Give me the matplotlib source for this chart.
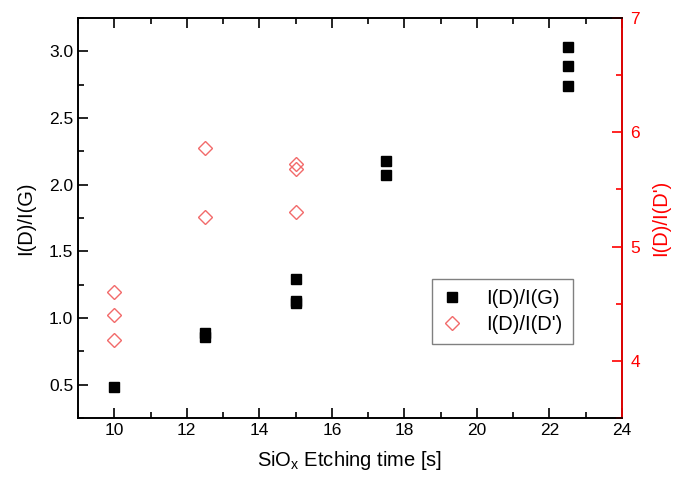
import matplotlib.pyplot as plt
from matplotlib.ticker import MultipleLocator

plt.rcParams['font.family'] = ['Liberation Sans', 'DejaVu Sans']

# I(D)/I(G) - left axis
t_g = [10, 12.5, 12.5, 15, 15, 15, 17.5, 17.5, 22.5, 22.5, 22.5]
ratio_g = [0.48, 0.86, 0.89, 1.29, 1.13, 1.11, 2.18, 2.07, 3.03, 2.89, 2.74]

# I(D)/I(D') - right axis
t_d = [10, 10, 10, 12.5, 12.5, 15, 15, 15]
ratio_d = [4.60, 4.40, 4.18, 5.86, 5.26, 5.72, 5.68, 5.30]

fig = plt.figure(figsize=(6.88, 4.82), dpi=100)
ax = fig.add_axes([78/688, 64/482, 544/688, 400/482])
ax2 = ax.twinx()

l1, = ax.plot(t_g, ratio_g, ls='none', marker='s', ms=6.5, color='black',
              label='I(D)/I(G)')
l2, = ax2.plot(t_d, ratio_d, ls='none', marker='D', ms=7, mfc='none',
               mec='#f26a6a', mew=1.0, label="I(D)/I(D')")

ax.set_xlim(9, 24)
ax.set_ylim(0.25, 3.25)
ax2.set_ylim(3.5, 7)

ax.xaxis.set_major_locator(MultipleLocator(2))
ax.xaxis.set_minor_locator(MultipleLocator(1))
ax.yaxis.set_major_locator(MultipleLocator(0.5))
ax.yaxis.set_minor_locator(MultipleLocator(0.25))
ax2.yaxis.set_major_locator(MultipleLocator(1))
ax2.yaxis.set_minor_locator(MultipleLocator(0.5))

ax.tick_params(which='both', direction='in', top=True, labelsize=12.5, width=1.2)
ax.tick_params(which='major', length=7)
ax.tick_params(which='minor', length=4)
ax2.tick_params(which='both', direction='in', colors='red', labelsize=12.5,
                width=1.2, pad=6)
ax2.tick_params(which='major', length=7)
ax2.tick_params(which='minor', length=4)

for s in ax.spines.values():
    s.set_linewidth(1.2)
for s in ax2.spines.values():
    s.set_linewidth(1.2)
ax2.spines['right'].set_color('red')

ax.set_xlabel('SiO$_\\mathregular{x}$ Etching time [s]', fontsize=14.5, labelpad=8)
ax.set_ylabel('I(D)/I(G)', fontsize=14.5, labelpad=10)
ax2.set_ylabel("I(D)/I(D')", fontsize=14.5, color='red', labelpad=8)

leg = ax.legend(handles=[l1, l2], loc='upper left',
                bbox_to_anchor=((432-78)/544, (418-279)/400),
                fontsize=14.5, fancybox=False, framealpha=1,
                edgecolor='gray', handlelength=1.0, handletextpad=1.2,
                borderpad=0.5, labelspacing=0.35, borderaxespad=0)
leg.get_frame().set_linewidth(1.0)

fig.savefig('out.png', dpi=100)
